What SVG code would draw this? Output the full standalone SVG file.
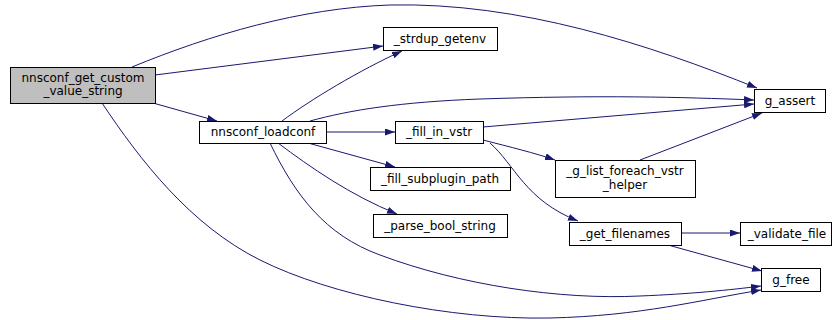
<svg xmlns="http://www.w3.org/2000/svg" width="832" height="320" viewBox="0 0 832 320">
<style>
.node rect{fill:#ffffff;stroke:#000000;stroke-width:1}
.node text{font-family:"DejaVu Sans",sans-serif;font-size:12px;fill:#000000;text-anchor:middle}
.edges path{fill:none;stroke:#191970;stroke-width:1}
</style>
<defs>
<marker id="arr" viewBox="0 0 10 7" refX="10" refY="3.5" markerWidth="10" markerHeight="7" markerUnits="userSpaceOnUse" orient="auto">
<path d="M0,0 L10,3.5 L0,7 z" fill="#191970" stroke="none"/>
</marker>
</defs>
<rect width="832" height="320" fill="#ffffff"/>
<g class="edges" id="connectors">
<path marker-end="url(#arr)" d="M132,67 C210,35 300,8 390,5 C520,2 650,45 757,88"/>
<path marker-end="url(#arr)" d="M155,75 L383,46"/>
<path marker-end="url(#arr)" d="M153,103 L217,121"/>
<path marker-end="url(#arr)" d="M102,103 C140,160 190,225 260,260 C330,295 450,320 550,318 C640,316 700,300 761,290"/>
<path marker-end="url(#arr)" d="M282,121 C310,100 360,70 402,51"/>
<path marker-end="url(#arr)" d="M310,121 C350,110 400,102 480,99 C600,95 680,97 754,100"/>
<path marker-end="url(#arr)" d="M326,132 L395,132"/>
<path marker-end="url(#arr)" d="M308,143 L395,167"/>
<path marker-end="url(#arr)" d="M278,143 C310,167 350,195 397,214"/>
<path marker-end="url(#arr)" d="M270,143 C295,195 325,235 380,255 C460,285 560,300 640,296 C690,294 730,290 761,286"/>
<path marker-end="url(#arr)" d="M483,127 L754,104"/>
<path marker-end="url(#arr)" d="M483,140 C510,147 535,153 555,160"/>
<path marker-end="url(#arr)" d="M490,143 C515,165 525,200 578,221"/>
<path marker-end="url(#arr)" d="M640,160 L762,113"/>
<path marker-end="url(#arr)" d="M681,233 L740,233"/>
<path marker-end="url(#arr)" d="M668,245 L762,271"/>
</g>
<g class="node" id="nnsconf_get_custom_value_string">
<rect x="10.5" y="67.5" width="145" height="36" style="fill:#bfbfbf"/>
<text x="83" y="82">nnsconf_get_custom</text>
<text x="83" y="95">_value_string</text>
</g>
<g class="node" id="nnsconf_loadconf">
<rect x="199.5" y="121.5" width="127" height="22"/>
<text x="263" y="136">nnsconf_loadconf</text>
</g>
<g class="node" id="_strdup_getenv">
<rect x="383.5" y="27.5" width="114" height="23"/>
<text x="440" y="43">_strdup_getenv</text>
</g>
<g class="node" id="_fill_in_vstr">
<rect x="395.5" y="121.5" width="88" height="22"/>
<text x="439" y="136">_fill_in_vstr</text>
</g>
<g class="node" id="_fill_subplugin_path">
<rect x="370.5" y="167.5" width="140" height="23"/>
<text x="440" y="183">_fill_subplugin_path</text>
</g>
<g class="node" id="_parse_bool_string">
<rect x="373.5" y="214.5" width="134" height="23"/>
<text x="440" y="230">_parse_bool_string</text>
</g>
<g class="node" id="_g_list_foreach_vstr_helper">
<rect x="555.5" y="160.5" width="140" height="37"/>
<text x="625" y="175">_g_list_foreach_vstr</text>
<text x="625" y="189">_helper</text>
</g>
<g class="node" id="_get_filenames">
<rect x="569.5" y="222.5" width="112" height="23"/>
<text x="625" y="238">_get_filenames</text>
</g>
<g class="node" id="_validate_file">
<rect x="740.5" y="222.5" width="91" height="23"/>
<text x="787" y="238">_validate_file</text>
</g>
<g class="node" id="g_free">
<rect x="761.5" y="268.5" width="59" height="23"/>
<text x="791" y="284">g_free</text>
</g>
<g class="node" id="g_assert">
<rect x="754.5" y="89.5" width="71" height="23"/>
<text x="790" y="105">g_assert</text>
</g>
</svg>
